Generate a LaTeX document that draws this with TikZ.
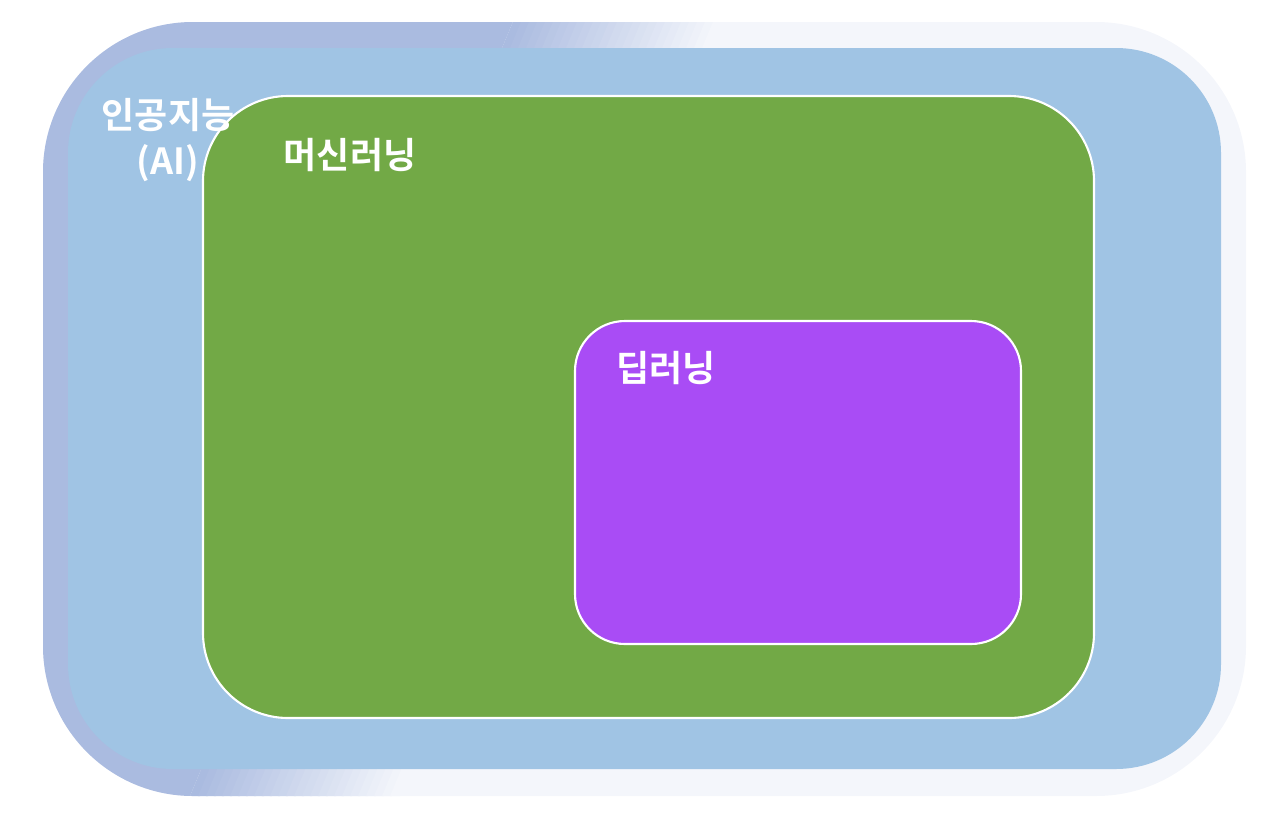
\documentclass[tikz,border=0pt]{standalone}
\usepackage{fontspec}
\newfontfamily\kofont{Noto Sans CJK KR}[BoldFont={Noto Sans CJK KR Bold}]
\definecolor{frameL}{HTML}{AABBE0}
\definecolor{frameR}{HTML}{F4F6FB}
\definecolor{aiblue}{HTML}{A0C4E4}
\definecolor{mlgreen}{HTML}{72A946}
\definecolor{dlpurple}{HTML}{A94CF5}
\tikzset{
  lbl/.style={text=white, align=center, font=\kofont\bfseries\fontsize{20.5}{26}\selectfont},
  setbox/.style={draw=white, line width=1.2pt}
}
\begin{document}
\begin{tikzpicture}[x=0.02cm,y=-0.02cm]
\useasboundingbox (0,0) rectangle (1263,832);
% outer frame, lavender fading to white
\begin{scope}
\clip[rounded corners=3cm] (43,22) rectangle (1246,796);
\fill[frameR] (0,0) rectangle (1263,832);
\fill[frameL] (0,0) -- (522,0) -- (175,832) -- (0,832) -- cycle;
\foreach \i in {0,...,25}{
  \pgfmathtruncatemacro\pct{100-4*\i}
  \fill[frameL!\pct!frameR] ({522+8*\i},0) -- ({532+8*\i},0) -- ({185+8*\i},832) -- ({175+8*\i},832) -- cycle;
}
\end{scope}
\fill[aiblue, rounded corners=2.1cm] (68,48) rectangle (1221,769);
%
\draw[setbox, fill=mlgreen, rounded corners=1.7cm] (203,96) rectangle (1094,718);
\draw[setbox, fill=dlpurple, rounded corners=1cm] (575,321) rectangle (1021,644);
%
\node[lbl] (ai) at (168,140) {인공지능\\(AI)};
\node[lbl] (ml) at (350,155) {머신러닝};
\node[lbl] (dl) at (666,368) {딥러닝};
\end{tikzpicture}
\end{document}
